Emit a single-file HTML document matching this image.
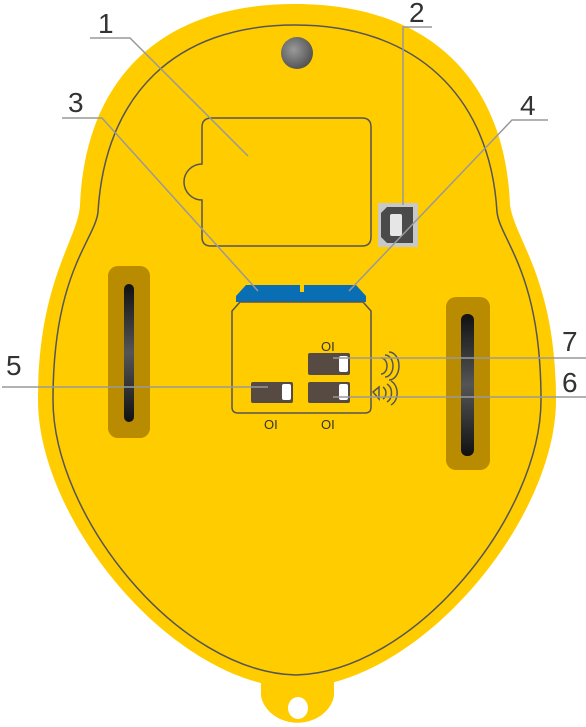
<!DOCTYPE html>
<html><head><meta charset="utf-8"><style>
html,body{margin:0;padding:0;background:#fff;}
svg{display:block}
text{font-family:"Liberation Sans",sans-serif;font-weight:300;fill:#333}
</style></head><body>
<svg width="586" height="727" viewBox="0 0 586 727">
<defs>
<radialGradient id="screw" cx="0.4" cy="0.4" r="0.7"><stop offset="0" stop-color="#9a9a9a"/><stop offset="1" stop-color="#4a4a4a"/></radialGradient>
<linearGradient id="slot" x1="0" y1="0" x2="0" y2="1"><stop offset="0" stop-color="#111"/><stop offset="0.5" stop-color="#555"/><stop offset="1" stop-color="#111"/></linearGradient>
</defs>
<g>
<path d="M261,676 V696 A37,32 0 0 0 334,696 V676 Z" fill="#ffcc00"/>
<ellipse cx="298" cy="708" rx="10" ry="11" fill="#fff"/>
<path d="M295,4 C430,4 505,80 510,205 C515,240 556,280 556,400 C556,520 420,685 296,688 C172,685 38,520 38,400 C38,280 78,240 80,205 C85,80 160,4 295,4 Z" fill="#ffcc00"/>
<path d="M295,25 C415,25 490,95 497,212 C500,240 541,272 541,400 C541,515 415,672 296,675 C177,672 53,515 53,400 C53,272 95,240 98,212 C105,95 175,25 295,25 Z" fill="none" stroke="#555" stroke-width="1.5"/>
</g>
<circle cx="297" cy="53" r="16" fill="url(#screw)"/>
<path d="M212,118 H362 Q371,118 371,127 V237 Q371,246 362,246 H211 Q202,246 202,237 V200 A13,13 0 0 1 202,164 V127 Q202,118 212,118 Z" fill="none" stroke="#555" stroke-width="1.5"/>
<g>
<rect x="378" y="203" width="40" height="44" fill="#c8c8c8"/>
<path d="M387,207 H413 V243 H387 L381,237 V213 Z" fill="#4a4a4a"/>
<rect x="390" y="214" width="12" height="22" rx="2" fill="#e6e6e6"/>
</g>
<g>
<rect x="108" y="266" width="42" height="172" rx="10" fill="#b88b00"/>
<rect x="124" y="284" width="10" height="138" rx="5" fill="url(#slot)"/>
</g>
<g>
<rect x="446" y="297" width="44" height="173" rx="10" fill="#b88b00"/>
<rect x="461" y="314" width="13" height="142" rx="6" fill="url(#slot)"/>
</g>
<g>
<path d="M246,285 H300 V292 H304 V285 H356 L366,296 V302 H236 V296 Z" fill="#0a6eb4"/>
<path d="M240,302 H363 L371,311 V407 Q371,413 365,413 H238 Q232,413 232,407 V311 Z" fill="none" stroke="#555" stroke-width="1.5"/>
<rect x="308" y="353" width="42" height="22" rx="2" fill="#564a42"/>
<rect x="339" y="356" width="9" height="16" rx="2" fill="#fff"/>
<rect x="308" y="382" width="42" height="21" rx="2" fill="#564a42"/>
<rect x="339" y="384" width="9" height="16" rx="2" fill="#fff"/>
<rect x="251" y="382" width="42" height="21" rx="2" fill="#564a42"/>
<rect x="282" y="384" width="9" height="16" rx="2" fill="#fff"/>
<text x="321" y="351" font-size="13" style="font-weight:400">OI</text>
<text x="264" y="429" font-size="13" style="font-weight:400">OI</text>
<text x="321" y="429" font-size="13" style="font-weight:400">OI</text>
<g fill="none" stroke="#555" stroke-width="1.5">
<path d="M381,358 a6,8 0 0 1 0,16"/><path d="M385,355 a8,11 0 0 1 0,22"/><path d="M389,352 a10,14 0 0 1 0,28"/>
<path d="M373,392 L379,387 V399 Z"/><path d="M383,387 a6,7 0 0 1 0,12"/><path d="M387,384 a8,10 0 0 1 0,18"/><path d="M391,381 a10,13 0 0 1 0,24"/>
</g>
</g>
<g stroke="#999" stroke-width="1.5" fill="none">
<path d="M90,38 H130 L248,156"/>
<path d="M432,27 H403 V205"/>
<path d="M62,118 H102 L258,291"/>
<path d="M548,120 H512 L349,291"/>
<path d="M2,387 H268"/>
<path d="M333,358 H586"/>
<path d="M333,397 H586"/>
</g>
<text x="98" y="33" font-size="28">1</text>
<text x="409" y="22" font-size="28">2</text>
<text x="68" y="112" font-size="28">3</text>
<text x="520" y="115" font-size="28">4</text>
<text x="6" y="375" font-size="28">5</text>
<text x="562" y="392" font-size="28">6</text>
<text x="562" y="351" font-size="28">7</text>
</svg>
</body></html>
